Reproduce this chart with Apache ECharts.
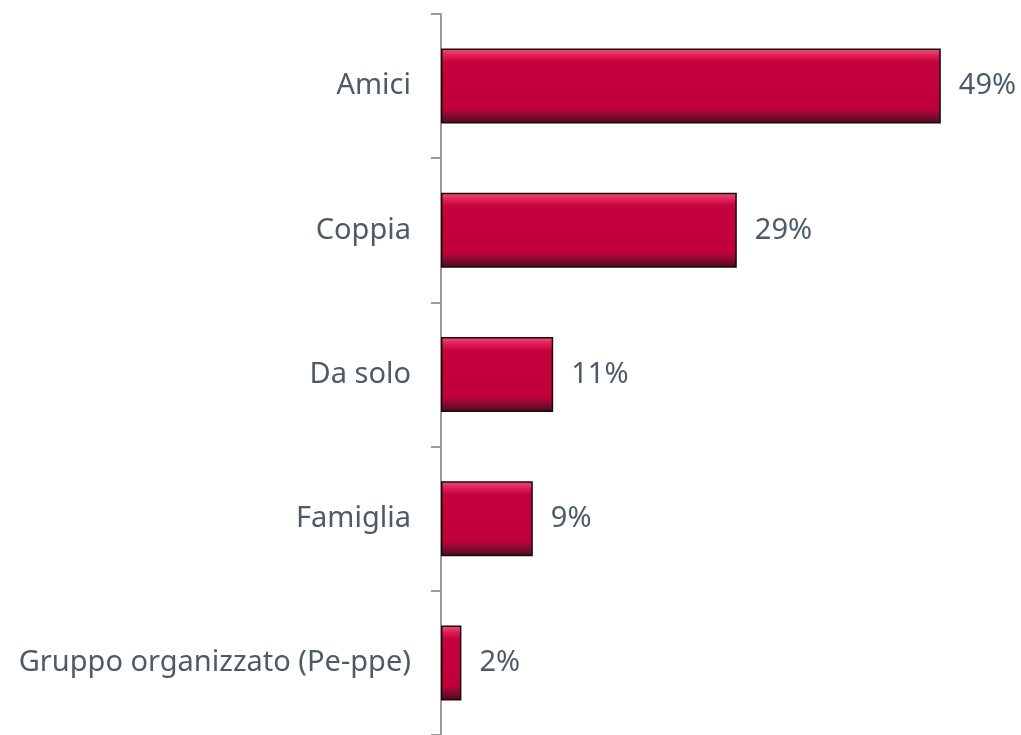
<!DOCTYPE html>
<html>
<head>
<meta charset="utf-8">
<script src="https://cdn.jsdelivr.net/npm/echarts@6/dist/echarts.min.js"></script>
<style>
  html, body { margin: 0; padding: 0; background: #fff; }
  #main { width: 1021px; height: 735px; }
</style>
</head>
<body>
<div id="main"></div>
<script>
// dati
var categorie = ['Amici', 'Coppia', 'Da solo', 'Famiglia', 'Gruppo organizzato (Pe-ppe)'];
var valori = [49, 29, 11, 9, 2];

var myChart = echarts.init(document.getElementById('main'));
var testo = '#4d5b69';

myChart.setOption({
    animation: false,
    grid: { left: 441, right: 70, top: 14, bottom: 0 },
    xAxis: {
        type: 'value',
        min: 0,
        max: 50,
        show: false
    },
    yAxis: {
        type: 'category',
        inverse: true,
        data: categorie,
        axisLine: { lineStyle: { color: '#9a9a9a', width: 2 } },
        axisTick: { show: true, length: 10, lineStyle: { color: '#9a9a9a', width: 2 } },
        axisLabel: {
            margin: 30,
            color: testo,
            fontSize: 29,
            fontFamily: 'Noto Sans'
        }
    },
    series: [{
        type: 'bar',
        data: valori,
        barWidth: 75,
        itemStyle: {
            color: new echarts.graphic.LinearGradient(0, 0, 0, 1, [
                { offset: 0, color: '#f0507a' },
                { offset: 0.1, color: '#dc1c52' },
                { offset: 0.18, color: '#c4023e' },
                { offset: 0.8, color: '#c0003b' },
                { offset: 0.88, color: '#8e0a33' },
                { offset: 1, color: '#4a0a1c' }
            ]),
            borderColor: '#1a0a0e',
            borderWidth: 1.5
        },
        label: {
            show: true,
            position: 'right',
            distance: 18,
            color: testo,
            fontSize: 29,
            fontFamily: 'Noto Sans',
            formatter: '{c}%'
        }
    }]
});
</script>
</body>
</html>
